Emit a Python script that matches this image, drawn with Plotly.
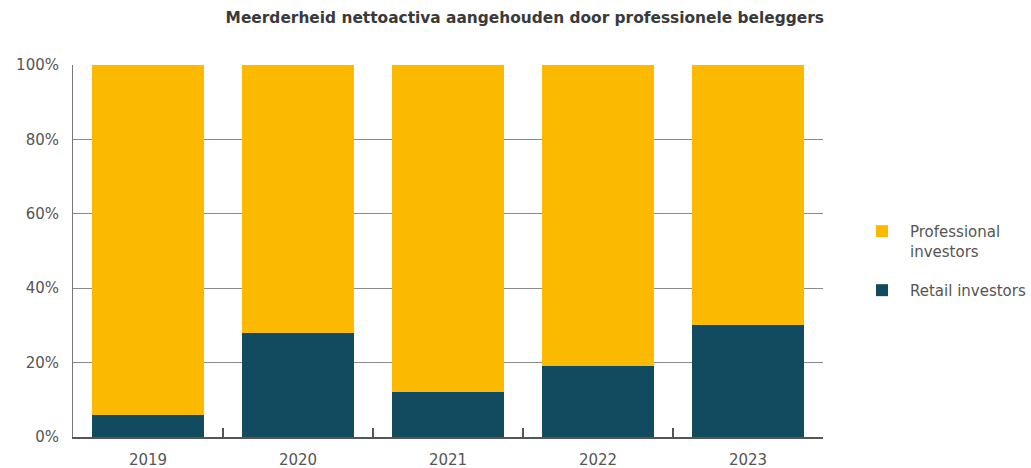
import plotly.graph_objects as go

# Share of net assets by investor type (%)
years = ["2019", "2020", "2021", "2022", "2023"]
retail = [6, 28, 12, 19, 30]
professional = [94, 72, 88, 81, 70]
pct_ticks = [0, 20, 40, 60, 80, 100]
pct_labels = ["0%", "20%", "40%", "60%", "80%", "100%"]

title_text = "Meerderheid nettoactiva aangehouden door professionele beleggers"
retail_name = "Retail investors"
professional_name = "Professional<br>investors"

YELLOW = "#FBB900"
TEAL = "#124B5F"
FONT = "DejaVu Sans, sans-serif"
TEXT_GREY = "#555555"

fig = go.Figure()
fig.add_trace(go.Bar(x=years, y=retail, name=retail_name, legendgroup="retail",
                     legendrank=2,
                     marker=dict(color=TEAL, line=dict(width=0))))
fig.add_trace(go.Bar(x=years, y=professional, name=professional_name,
                     legendgroup="professional", legendrank=1,
                     marker=dict(color=YELLOW, line=dict(width=0))))

fig.update_layout(
    width=1031, height=468,
    margin=dict(l=73, r=208, t=65, b=31, autoexpand=False),
    barmode="stack",
    bargap=0.25,
    plot_bgcolor="white",
    paper_bgcolor="white",
    font=dict(family=FONT, size=15, color=TEXT_GREY),
    title=dict(text=title_text, x=0.509, xanchor="center", y=0.962, yanchor="middle",
               font=dict(family=FONT, size=15.4, color="#3a3a3a", weight=600)),
    legend=dict(x=1.0413, y=0.597, xanchor="left", yanchor="top",
                traceorder="grouped", valign="top", tracegroupgap=17,
                itemwidth=46,
                font=dict(family=FONT, size=15, color=TEXT_GREY)),
    xaxis=dict(
        showline=True, linecolor="#555555", linewidth=2,
        ticks="inside", tickson="boundaries", ticklen=9, tickcolor="#555555",
        tickwidth=1.5, showgrid=False, automargin=False,
        ticklabelstandoff=8,
        tickfont=dict(size=15, color=TEXT_GREY),
    ),
    yaxis=dict(
        range=[0, 100], tickmode="array", tickvals=pct_ticks, ticktext=pct_labels,
        showline=True, linecolor="#777777", linewidth=1,
        showgrid=True, gridcolor="#8a8a8a", gridwidth=1,
        ticks="", ticklabelstandoff=10, zeroline=False, automargin=False,
        tickfont=dict(size=15, color=TEXT_GREY),
    ),
)

fig.write_html("out.html")
